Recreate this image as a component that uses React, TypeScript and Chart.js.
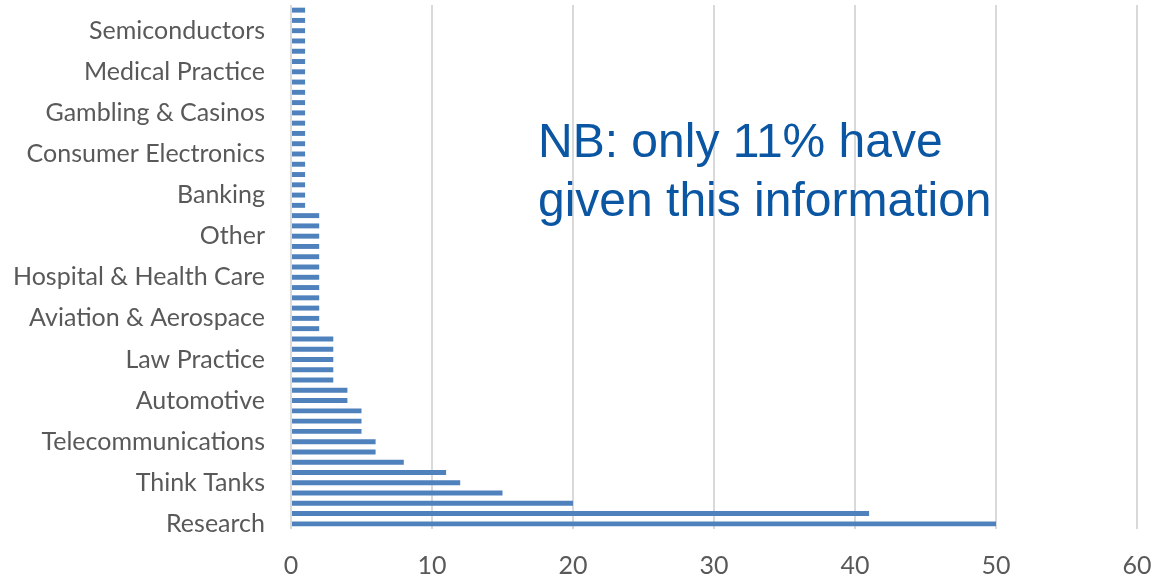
import { useEffect, useRef } from "react";
import { Chart, registerables } from "chart.js";

Chart.register(...registerables);

// Categories from bottom (index 0) to top; only every 4th label is shown in the reference
const categories: string[] = [
  "Research", "", "", "",
  "Think Tanks", "", "", "",
  "Telecommunications", "", "", "",
  "Automotive", "", "", "",
  "Law Practice", "", "", "",
  "Aviation & Aerospace", "", "", "",
  "Hospital & Health Care", "", "", "",
  "Other", "", "", "",
  "Banking", "", "", "",
  "Consumer Electronics", "", "", "",
  "Gambling & Casinos", "", "", "",
  "Medical Practice", "", "", "",
  "Semiconductors", "", "",
];

const values: number[] = [
  50, 41, 20, 15,
  12, 11, 8, 6,
  6, 5, 5, 5,
  4, 4, 3, 3,
  3, 3, 3, 2,
  2, 2, 2, 2,
  2, 2, 2, 2,
  2, 2, 2, 1,
  1, 1, 1, 1,
  1, 1, 1, 1,
  1, 1, 1, 1,
  1, 1, 1, 1,
  1, 1, 1,
];

const xTickMin = 0;
const xTickMax = 60;
const xTickStep = 10;

const noteLines: string[] = ["NB: only 11% have", "given this information"];

const notePlugin = {
  id: "notePlugin",
  afterDraw(chart: any) {
    const ctx = chart.ctx;
    ctx.save();
    ctx.fillStyle = "#0b56a2";
    ctx.font = "48px 'Liberation Sans', Arial, sans-serif";
    ctx.textAlign = "left";
    ctx.textBaseline = "alphabetic";
    ctx.fillText(noteLines[0], 538, 157);
    ctx.fillText(noteLines[1], 538, 216);
    ctx.restore();
  },
};

export default function App() {
  const ref = useRef<HTMLCanvasElement | null>(null);

  useEffect(() => {
    document.body.style.margin = "0";
    if (!ref.current) return;
    const chart = new Chart(ref.current, {
      type: "bar",
      data: {
        labels: categories,
        datasets: [
          {
            data: values,
            backgroundColor: "#4f81bd",
            borderWidth: 0,
            categoryPercentage: 1,
            barPercentage: 0.48,
          },
        ],
      },
      options: {
        indexAxis: "y",
        animation: false,
        responsive: false,
        maintainAspectRatio: false,
        layout: { padding: { top: 5, right: 18, bottom: 0, left: 0 } },
        plugins: {
          legend: { display: false },
          tooltip: { enabled: false },
        },
        scales: {
          y: {
            type: "category",
            reverse: true,
            grid: { display: false, drawTicks: false },
            border: { display: false },
            ticks: {
              autoSkip: false,
              padding: 26,
              color: "#595959",
              font: { family: "Lato", size: 25 },
            },
            afterFit(scale: any) {
              scale.width = 291;
              scale.paddingTop = 0;
              scale.paddingBottom = 0;
            },
          },
          x: {
            type: "linear",
            min: xTickMin,
            max: xTickMax,
            grid: { color: "#d9d9d9", lineWidth: 2, drawTicks: false },
            border: { display: false },
            ticks: {
              stepSize: xTickStep,
              padding: 22,
              color: "#595959",
              font: { family: "Lato", size: 25 },
            },
            afterFit(scale: any) {
              scale.height = 51;
              scale.paddingLeft = 0;
              scale.paddingRight = 0;
            },
          },
        },
      },
      plugins: [notePlugin],
    });
    return () => chart.destroy();
  }, []);

  return (
    <div style={{ position: "absolute", left: 0, top: 0, width: 1155, height: 580 }}>
      <canvas ref={ref} width={1155} height={580} style={{ width: 1155, height: 580 }} />
    </div>
  );
}
